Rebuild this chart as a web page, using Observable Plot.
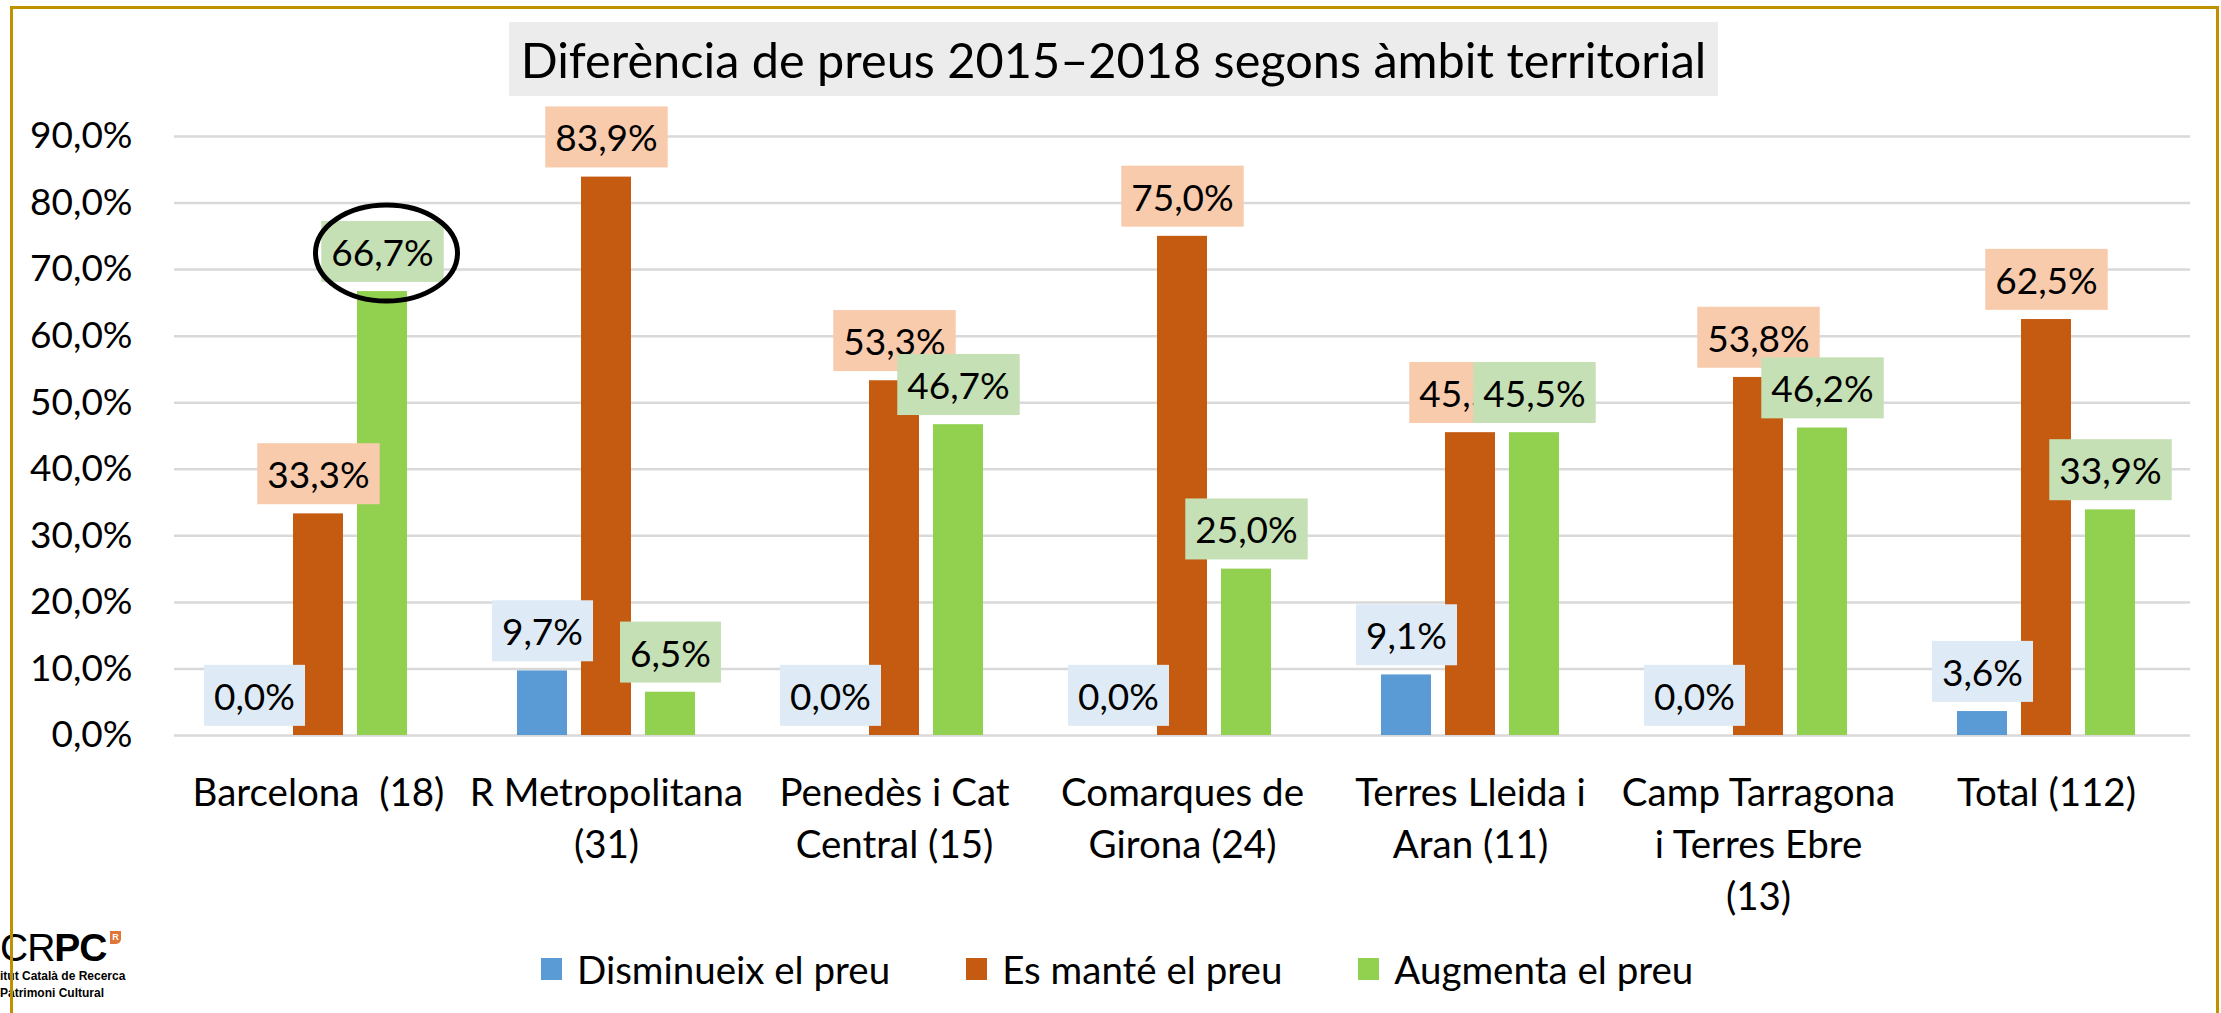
<!DOCTYPE html>
<html>
<head>
<meta charset="utf-8">
<script src="https://cdn.jsdelivr.net/npm/d3@7"></script>
<script src="https://cdn.jsdelivr.net/npm/@observablehq/plot@0.6"></script>
<style>
  html, body { margin: 0; padding: 0; background: #fff; width: 2221px; height: 1013px; overflow: hidden; font-family: Lato, sans-serif; color: #000; }
  #frame { position: absolute; left: 10px; top: 6px; width: 2209px; height: 1100px; border: 3px solid #BF9000; box-sizing: border-box; pointer-events: none; z-index: 5; }
  #title { position: absolute; left: 509px; top: 22px; width: 1209px; height: 74px; background: #ececec; text-align: center; line-height: 74px; font-size: 47px; white-space: nowrap; }
  #chart { position: absolute; left: 0; top: 100px; }
  #legend { position: absolute; left: 541px; top: 946px; display: flex; align-items: center; gap: 76px; font-size: 38.5px; white-space: nowrap; }
  #legend .item { display: flex; align-items: center; gap: 15px; }
  #legend .sw { width: 21px; height: 22px; display: inline-block; }
  #logo { position: absolute; left: 0; top: 928px; font-family: "Liberation Sans", Arial, sans-serif; z-index: 2; }
  #logo .big { font-size: 39px; line-height: 40px; letter-spacing: -1px; white-space: nowrap; }
  #logo .big .thin { font-weight: 400; }
  #logo .big .heavy { font-weight: 900; }
  #logo .big .sup { display: inline-block; background: #E0763A; color: #fff; font-size: 9px; line-height: 13px; width: 11px; text-align: center; vertical-align: top; margin-left: 3px; margin-top: 3px; font-weight: 700; border-radius: 0 0 5px 0; }
  #logo .small { font-size: 12px; font-weight: 700; line-height: 17px; white-space: nowrap; }
</style>
</head>
<body>
<div id="frame"></div>
<div id="title"><span id="titleText">Diferència de preus 2015–2018 segons àmbit territorial</span></div>
<div id="chart"></div>
<div id="legend"></div>
<div id="logo">
  <div class="big"><span class="thin">CR</span><span class="heavy">PC</span><span class="sup">R</span></div>
  <div class="small">itut Català de Recerca</div>
  <div class="small">Patrimoni Cultural</div>
</div>
<script>
// ---- Data ----
const categories = [
  "Barcelona  (18)",
  "R Metropolitana\n(31)",
  "Penedès i Cat\nCentral (15)",
  "Comarques de\nGirona (24)",
  "Terres Lleida i\nAran (11)",
  "Camp Tarragona\ni Terres Ebre\n(13)",
  "Total (112)"
];
const seriesNames = ["Disminueix el preu", "Es manté el preu", "Augmenta el preu"];
const disminueix = [0.0, 9.7, 0.0, 0.0, 9.1, 0.0, 3.6];
const esMante   = [33.3, 83.9, 53.3, 75.0, 45.5, 53.8, 62.5];
const augmenta  = [66.7, 6.5, 46.7, 25.0, 45.5, 46.2, 33.9];
const yTicks = [0, 10, 20, 30, 40, 50, 60, 70, 80, 90];
const highlight = [{category: "Barcelona  (18)", series: "Augmenta el preu", value: 66.7}];

const barColors = ["#5B9BD5", "#C55A11", "#92D050"];
const labelBg = ["#DEEBF7", "#F8CBAD", "#C5E0B4"];

const seriesValues = [disminueix, esMante, augmenta];
const rows = categories.flatMap((c, i) =>
  seriesNames.map((s, k) => ({category: c, series: s, value: seriesValues[k][i]}))
);

const fmt = v => v.toFixed(1).replace(".", ",") + "%";

const ellipseSymbol = {
  draw(ctx) {
    const rx = 71, ry = 48, k = 0.5523;
    ctx.moveTo(rx, 0);
    ctx.bezierCurveTo(rx, ry * k, rx * k, ry, 0, ry);
    ctx.bezierCurveTo(-rx * k, ry, -rx, ry * k, -rx, 0);
    ctx.bezierCurveTo(-rx, -ry * k, -rx * k, -ry, 0, -ry);
    ctx.bezierCurveTo(rx * k, -ry, rx, -ry * k, rx, 0);
    ctx.closePath();
  }
};

const labelMarks = seriesNames.map((s, k) =>
  Plot.text(rows.filter(d => d.series === s), {
    fx: "category", x: "series", y: "value",
    text: d => fmt(d.value),
    dy: -37.5, fontSize: 37, fill: "#000",
    className: "lbl" + k
  })
);

const chart = Plot.plot({
  width: 2221,
  height: 830,
  marginTop: 36,
  marginBottom: 195,
  marginLeft: 174,
  marginRight: 31,
  style: {fontFamily: "Lato, sans-serif", color: "#000", background: "transparent", overflow: "visible"},
  fx: {domain: categories, padding: 0, label: null},
  x: {domain: seriesNames, paddingInner: 0.21875, paddingOuter: 0.859, axis: null},
  y: {domain: [0, 90], label: null},
  color: {domain: seriesNames, range: barColors},
  marks: [
    Plot.gridY(yTicks, {stroke: "#d9d9d9", strokeOpacity: 1, strokeWidth: 2.5}),
    Plot.axisY(yTicks, {tickSize: 0, tickPadding: 42, fontSize: 37, tickFormat: fmt, label: null}),
    Plot.axisFx({anchor: "bottom", tickSize: 0, tickPadding: 33, fontSize: 38.5, lineHeight: 1.36, label: null}),
    Plot.barY(rows, {fx: "category", x: "series", y: "value", fill: "series"}),
    ...labelMarks,
    Plot.dot(highlight, {fx: "category", x: "series", y: "value", dx: 4, dy: -38.5, symbol: ellipseSymbol, stroke: "#000", strokeWidth: 5, fill: "none"})
  ]
});
document.getElementById("chart").append(chart);

// label background boxes, placed behind each label text
seriesNames.forEach((s, k) => {
  chart.querySelectorAll(".lbl" + k + " text").forEach(t => {
    const bb = t.getBBox();
    const cy = bb.y + bb.height / 2;
    const r = document.createElementNS("http://www.w3.org/2000/svg", "rect");
    r.setAttribute("x", bb.x - 10);
    r.setAttribute("y", cy - 30.5);
    r.setAttribute("width", bb.width + 20);
    r.setAttribute("height", 61);
    r.setAttribute("fill", labelBg[k]);
    if (t.getAttribute("transform")) r.setAttribute("transform", t.getAttribute("transform"));
    t.parentNode.insertBefore(r, t);
  });
});

// legend
const legend = document.getElementById("legend");
seriesNames.forEach((s, k) => {
  const item = document.createElement("div");
  item.className = "item";
  const sw = document.createElement("span");
  sw.className = "sw";
  sw.style.background = barColors[k];
  const tx = document.createElement("span");
  tx.textContent = s;
  item.append(sw, tx);
  legend.append(item);
});

// fit title text width to the reference
const tt = document.getElementById("titleText");
const w = tt.getBoundingClientRect().width;
if (w > 0) tt.style.fontSize = (47 * 1186 / w) + "px";
</script>
</body>
</html>
